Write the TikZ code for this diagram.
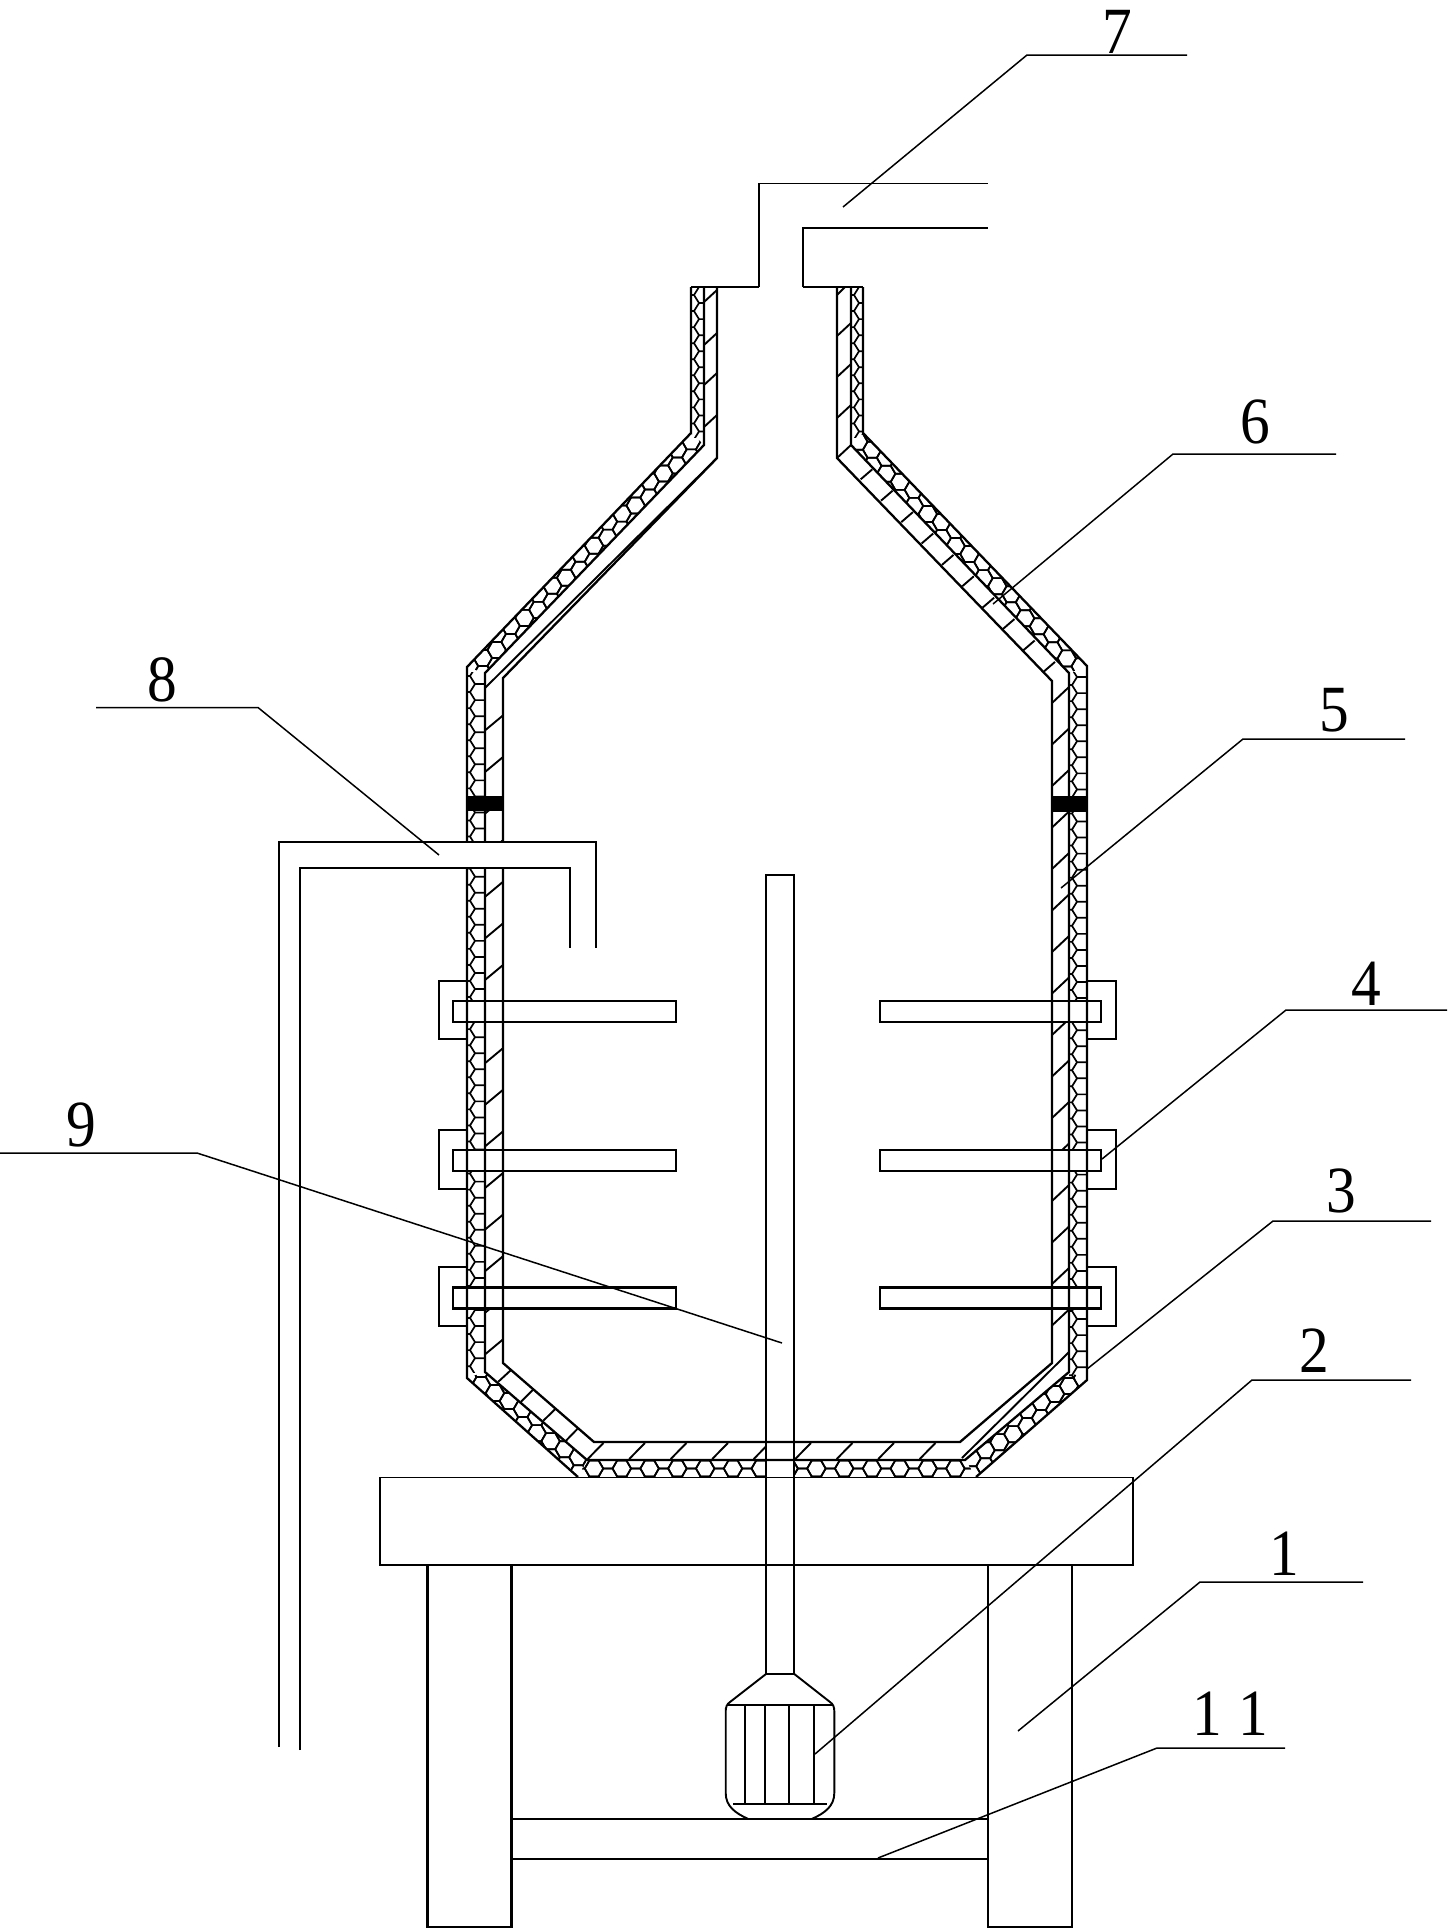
\documentclass[tikz,border=0pt]{standalone}
\usepackage{fontspec}
\setmainfont{Liberation Serif}
\tikzset{
  every picture/.style={x=0.5pt,y=-0.5pt},
  wall/.style={draw=black,line width=1.15pt,line join=miter},
  thinwall/.style={draw=black,line width=0.95pt},
  hexl/.style={draw=black,line width=0.85pt},
  hatch/.style={draw=black,line width=0.95pt},
  lead/.style={draw=black,line width=0.75pt},
  lab/.style={inner sep=0pt,font=\fontsize{33}{33}\selectfont}
}
\newcommand\lbl[1]{\scalebox{.9}[1]{#1}}
% honeycomb lattice: x0 y0 imin imax jmin jmax
\newcommand\hexlat[6]{%
  \foreach \i in {#3,...,#4}{%
    \foreach \j in {#5,...,#6}{%
      \pgfmathsetmacro\cx{#1+\i*13.9}%
      \pgfmathsetmacro\cy{#2+(\j+mod(\i,2)*.5)*16.05}%
      \draw[hexl,shift={(\cx,\cy)}] (-9.27,0)--(-4.63,-8.03)--(4.63,-8.03)--(9.27,0)--(4.63,8.03)--(-4.63,8.03)--cycle;
    }}}
% vertical strip: xL xR y0 N clipTop clipBottom
\newcommand\hexcol[6]{%
  \begin{scope}
  \clip (#1,#5) rectangle (#2,#6);
  \foreach \k in {0,...,#4}{%
    \pgfmathsetmacro\yy{#3+\k*16.05}%
    \pgfmathsetmacro\ym{\yy+8.03}%
    \pgfmathsetmacro\yn{\yy+16.05}%
    \pgfmathsetmacro\xa{#1+8}%
    \pgfmathsetmacro\xb{#1+3}%
    \draw[hexl] (#2,\yy)--(\xa,\yy)--(\xb,\ym)--(\xa,\yn) (\xb,\ym)--(#1,\ym);
  }
  \end{scope}}
\begin{document}
\begin{tikzpicture}
\useasboundingbox (0,0) rectangle (1447,1929);
% honeycomb, diagonal runs and floor
\begin{scope}\clip (467,667)--(691,433)--(704,445)--(485,673)--cycle; \hexlat{496.7}{650}{-3}{16}{-15}{2} \end{scope}
\begin{scope}\clip (863,433)--(1087,666)--(1069,673)--(851,445)--cycle; \hexlat{858.3}{441.7}{-1}{17}{-1}{16} \end{scope}
\begin{scope}\clip (467,1378)--(578,1477)--(587,1460)--(485,1372)--cycle; \hexlat{495}{1393}{-3}{7}{-2}{6} \end{scope}
\begin{scope}\clip (1087,1380)--(976,1477)--(965,1459)--(1069,1372)--cycle; \hexlat{1055}{1394}{-8}{3}{-2}{6} \end{scope}
\begin{scope}\clip (578,1477)--(587,1460)--(965,1460)--(976,1477)--cycle; \hexlat{594}{1468.5}{-1}{28}{-1}{1} \end{scope}
% honeycomb, vertical runs
\hexcol{467}{485}{668}{44}{672}{1372}
\hexcol{1069}{1087}{661}{45}{672}{1378}
\hexcol{691}{704}{287}{9}{287}{437}
\hexcol{851}{863}{287}{9}{287}{437}
% hatching
\foreach \y in {302,345,385,427}{\draw[hatch] (704,\y)--(717,\y-12);}
\draw[hatch] (837,295)--(845,287);
\foreach \y in {336,377,418}{\draw[hatch] (837,\y)--(851,\y-13);}
\draw[hatch] (837,458)--(851,445);
\foreach \k in {0,...,15}{\pgfmathsetmacro\yy{730.4+\k*41.6}\draw[hatch] (485,\yy)--(503,\yy-15);}
\foreach \k in {0,...,15}{\pgfmathsetmacro\yy{703+\k*41.5}\draw[hatch] (1052,\yy)--(1069,\yy-16);}
\foreach \k in {0,...,9}{\pgfmathsetmacro\xx{860.7+\k*20.3}\pgfmathsetmacro\yy{479.3+\k*21.4}\draw[hatch] (\xx,\yy)--(\xx+11.6,\yy-10);}
\draw[hatch] (498.3,1381.7)--(511,1370) (521,1401.7)--(532.7,1390) (543.3,1420.7)--(555,1409.3) (565,1441.7)--(577.3,1429);
\foreach \k in {0,...,8}{\pgfmathsetmacro\xx{587.7+\k*41.5}\draw[hatch] (\xx,1459)--(\xx+15.7,1443);}
% clear areas of paddles, shaft and pipe
\foreach \a/\b in {1001/1022,1150/1171,1287.5/1308.5}{
  \fill[white] (453,\a) rectangle (676,\b);
  \fill[white] (880,\a) rectangle (1101,\b);
}
\fill[white] (766,1440) rectangle (794,1478);
% vessel walls
\draw[wall] (691,287)--(691,433)--(467,667)--(467,1378)--(578,1477);
\draw[wall] (976,1477)--(1087,1380)--(1087,666)--(863,433)--(863,287);
\draw[wall] (704,287)--(704,445)--(485,673)--(485,1372)--(587,1460)--(965,1460)--(1069,1372)--(1069,673)--(851,445)--(851,287);
\draw[wall] (717,287)--(717,458)--(503,678)--(503,1363)--(594,1442)--(960,1442)--(1052,1363)--(1052,681)--(837,458)--(837,287);
\draw[thinwall] (717,458)--(485,688);
\draw[thinwall] (962,1458)--(1069,1352);
% seals
\fill[black] (466,796) rectangle (504,811);
\fill[black] (1051,796) rectangle (1088,812);
% outlet 7
\draw[wall] (691,287)--(759,287);
\draw[wall] (863,287)--(803,287);
\draw[thinwall] (759,287)--(759,183.5)--(988,183.5);
\draw[thinwall] (803,287)--(803,228)--(988,228);
% side pipe 8
\fill[white] (460,842) rectangle (510,868);
\draw[thinwall] (279,1747)--(279,842)--(596,842)--(596,948);
\draw[thinwall] (300,1750)--(300,868)--(570,868)--(570,948);
% paddles and brackets
\foreach \a/\b/\c/\d in {1001/1022/981/1039,1150/1171/1130/1189,1287.5/1308.5/1267/1326}{
  \draw[wall] (453,\a) rectangle (676,\b);
  \draw[wall] (880,\a) rectangle (1101,\b);
  \draw[thinwall] (467,\c)--(439,\c)--(439,\d)--(467,\d);
  \draw[thinwall] (1087,\c)--(1116,\c)--(1116,\d)--(1087,\d);
}
% stand
\draw[thinwall] (380,1477.5) rectangle (1133,1565);
\draw[wall] (427.5,1565)--(427.5,1927)--(511.5,1927)--(511.5,1565);
\draw[wall] (988,1565)--(988,1927)--(1072,1927)--(1072,1565);
\draw[thinwall] (511.5,1819)--(988,1819) (511.5,1859)--(988,1859);
% shaft and motor
\draw[thinwall] (766,1674)--(766,875)--(794.3,875)--(794.3,1674);
\draw[wall] (766,1674)--(794.3,1674);
\draw[thinwall] (766,1674)--(730,1702) .. controls (727,1704) and (725.7,1707) .. (725.7,1711)--(725.7,1793) .. controls (725.7,1806) and (735,1813) .. (748.3,1819);
\draw[thinwall] (794.3,1674)--(830,1702) .. controls (833,1704) and (834.3,1707) .. (834.3,1711)--(834.3,1793) .. controls (834.3,1806) and (825,1813) .. (811.7,1819);
\draw[thinwall] (728,1705)--(832,1705) (733,1804.3)--(827,1804.3);
\foreach \x in {745,765,789,814.3}{\draw[thinwall] (\x,1705)--(\x,1804.3);}
% labels
\node[lab] (n7) at (1117,32) {\lbl{7}};
\node[lab] (n6) at (1255,422) {\lbl{6}};
\node[lab] (n5) at (1334,710) {\lbl{5}};
\node[lab] (n4) at (1366,984) {\lbl{4}};
\node[lab] (n3) at (1341,1191) {\lbl{3}};
\node[lab] (n2) at (1314,1351) {\lbl{2}};
\node[lab] (n1) at (1284,1554) {\lbl{1}};
\node[lab] (n11a) at (1207,1714) {\lbl{1}};
\node[lab] (n11b) at (1253,1714) {\lbl{1}};
\node[lab] (n8) at (162,680) {\lbl{8}};
\node[lab] (n9) at (81,1125) {\lbl{9}};
% leaders
\coordinate (a7) at (1187,55); \coordinate (b7) at (1027,55); \coordinate (c7) at (843,207);
\coordinate (a6) at (1336,454); \coordinate (b6) at (1173,454); \coordinate (c6) at (993,604);
\coordinate (a5) at (1405,739); \coordinate (b5) at (1243,739); \coordinate (c5) at (1061,888);
\coordinate (a4) at (1447,1010); \coordinate (b4) at (1286,1010); \coordinate (c4) at (1102,1159);
\coordinate (a3) at (1431,1221); \coordinate (b3) at (1273,1221); \coordinate (c3) at (1087,1369);
\coordinate (a2) at (1411,1380); \coordinate (b2) at (1252,1380); \coordinate (c2) at (815,1754);
\coordinate (a1) at (1363,1582); \coordinate (b1) at (1200,1582); \coordinate (c1) at (1018,1731);
\coordinate (a11) at (1285,1748); \coordinate (b11) at (1157,1748); \coordinate (c11) at (878,1858);
\coordinate (a8) at (96,707.5); \coordinate (b8) at (258,707.5); \coordinate (c8) at (439,855);
\coordinate (a9) at (0,1153); \coordinate (b9) at (197,1153); \coordinate (c9) at (782,1343);
\foreach \n in {7,6,5,4,3,2,1,11,8,9}{\draw[lead] (a\n)--(b\n)--(c\n);}
\end{tikzpicture}
\end{document}
